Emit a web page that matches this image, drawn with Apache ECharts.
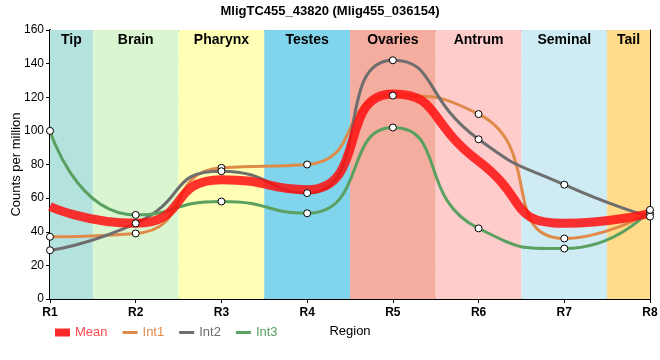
<!DOCTYPE html>
<html><head><meta charset="utf-8">
<script src="https://cdn.jsdelivr.net/npm/echarts@6/dist/echarts.min.js"></script>
<style>html,body{margin:0;padding:0;background:#fff}#c{width:660px;height:360px}</style>
</head><body><div id="c"></div>
<script>
var title = 'MligTC455_43820 (Mlig455_036154)';
var categories = ['R1','R2','R3','R4','R5','R6','R7','R8'];
var meanVals = [55, 45, 71, 65, 122, 82, 45, 51];
var int1Vals = [37, 39, 78, 80, 121, 110, 36, 51];
var int2Vals = [29, 45, 76, 63, 142, 95, 68, 49];
var int3Vals = [100, 50, 58, 51, 102, 42, 30, 53];
var regionNames = ['Tip','Brain','Pharynx','Testes','Ovaries','Antrum','Seminal','Tail'];
var regionStart = [0, 0.5, 1.5, 2.5, 3.5, 4.5, 5.5, 6.5];
var regionEnd = [0.5, 1.5, 2.5, 3.5, 4.5, 5.5, 6.5, 7];
var regionColors = ['#b4e3de','#d9f6d0','#ffffb5','#80d5ec','#f5ada0','#ffcccc','#cfecf5','#ffdb8a'];
var yTicks = {min: 0, max: 160, interval: 20};

function pairs(v){ return v.map(function(y,i){ return [i,y]; }); }
var font = 'Liberation Sans, Arial, sans-serif';
var chart = echarts.init(document.getElementById('c'));
var markData = regionNames.map(function(n,i){
  return [{xAxis: regionStart[i], name: n, itemStyle:{color: regionColors[i]}}, {xAxis: regionEnd[i]}];
});
function lineSeries(name, vals, color, width, z){
  return {
    name: name, type: 'line', data: pairs(vals), smooth: 0.6, symbol: 'none', z: z, silent: true,
    itemStyle: {color: color},
    lineStyle: {color: color, width: width, cap: 'butt', join: 'round'},
    emphasis: {disabled: true}
  };
}
function markerSeries(name, vals){
  return {
    name: name + ' points', type: 'scatter', data: pairs(vals), z: 10, silent: true,
    symbol: 'circle', symbolSize: 7,
    itemStyle: {color: '#ffffff', borderColor: '#000', borderWidth: 1, opacity: 1}
  };
}
var lineIcon = 'path://M0,0 L15,0 L15,3 L0,3 Z';
chart.setOption({
  animation: false,
  title: {text: title, left: 'center', top: 0, textStyle: {fontFamily: font, fontSize: 13, fontWeight: 'bold', color: '#000'}},
  grid: {left: 50, right: 10, top: 30, bottom: 61, outerBoundsMode: 'none', containLabel: false},
  legend: {
    left: 50, top: 321, itemWidth: 15, itemHeight: 8, itemGap: 15, symbolKeepAspect: true,
    textStyle: {fontFamily: font, fontSize: 13},
    data: [
      {name: 'Mean', icon: 'rect', itemStyle: {color: '#ff2a2a'}, textStyle: {color: '#ff4a4a'}},
      {name: 'Int1', icon: lineIcon, itemStyle: {color: '#e08a4a'}, textStyle: {color: '#e08a4a'}},
      {name: 'Int2', icon: lineIcon, itemStyle: {color: '#6e6e6e'}, textStyle: {color: '#6e6e6e'}},
      {name: 'Int3', icon: lineIcon, itemStyle: {color: '#5aa060'}, textStyle: {color: '#5aa060'}}
    ]
  },
  xAxis: [{
    type: 'value', min: 0, max: 7, interval: 1,
    name: 'Region', nameLocation: 'middle', nameGap: 26,
    nameTextStyle: {fontFamily: font, fontSize: 13, color: '#000'},
    axisLine: {lineStyle: {color: '#000', width: 2}},
    axisTick: {length: 4, lineStyle: {color: '#000'}},
    axisLabel: {formatter: function(v){ return categories[v] || ''; }, fontFamily: font, fontSize: 12, fontWeight: 'bold', color: '#000', margin: 8},
    splitLine: {show: true, lineStyle: {color: '#c8c8c8'}}
  }, {
    type: 'value', min: 0, max: 7, position: 'top',
    axisLine: {show: true, onZero: false, lineStyle: {color: '#000', width: 1}},
    axisTick: {show: false}, axisLabel: {show: false}, splitLine: {show: false}
  }],
  yAxis: [{
    type: 'value', min: yTicks.min, max: yTicks.max, interval: yTicks.interval,
    name: 'Counts per million', nameLocation: 'middle', nameGap: 27, nameMoveOverlap: false,
    nameTextStyle: {fontFamily: font, fontSize: 13, color: '#000'},
    axisLine: {show: true, lineStyle: {color: '#000', width: 2}},
    axisTick: {show: true, length: 4, lineStyle: {color: '#000'}},
    axisLabel: {fontFamily: font, fontSize: 12, color: '#000', margin: 6},
    splitLine: {show: true, lineStyle: {color: '#c8c8c8'}}
  }, {
    type: 'value', min: yTicks.min, max: yTicks.max, position: 'right',
    axisLine: {show: true, onZero: false, lineStyle: {color: '#000', width: 1}},
    axisTick: {show: false}, axisLabel: {show: false}, splitLine: {show: false}
  }],
  series: [
    {
      name: 'bands', type: 'line', data: [], z: -1, silent: true,
      markArea: {
        silent: true,
        label: {show: true, position: 'insideTop', distance: 3, fontFamily: font, fontSize: 14, fontWeight: 'bold', color: '#000'},
        data: markData
      }
    },
    lineSeries('Int1', int1Vals, '#e08a4a', 3, 3),
    lineSeries('Int2', int2Vals, '#6e6e6e', 3, 4),
    lineSeries('Int3', int3Vals, '#5aa060', 3, 5),
    lineSeries('Mean', meanVals, 'rgba(255,15,15,0.85)', 9, 6),
    markerSeries('Int1', int1Vals),
    markerSeries('Int2', int2Vals),
    markerSeries('Int3', int3Vals)
  ]
});
</script></body></html>
